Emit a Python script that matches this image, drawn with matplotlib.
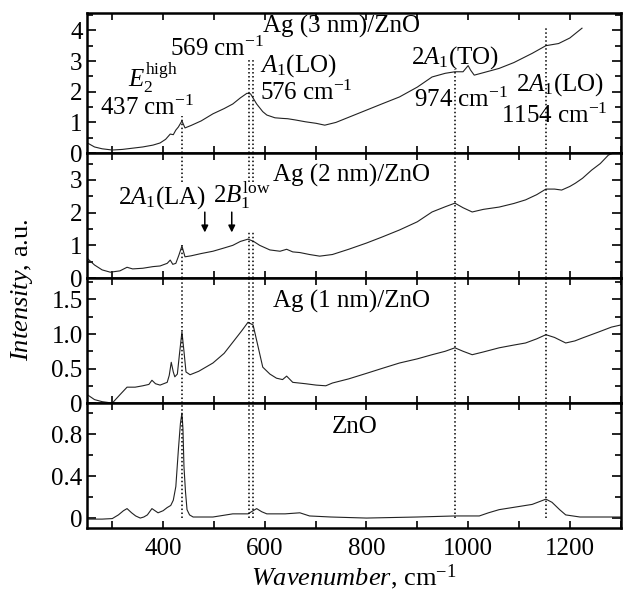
import matplotlib.pyplot as plt
from matplotlib.ticker import MultipleLocator

plt.rcParams['font.family'] = 'Liberation Serif'
plt.rcParams['mathtext.fontset'] = 'custom'
plt.rcParams['mathtext.rm'] = 'Liberation Serif'
plt.rcParams['mathtext.it'] = 'Liberation Serif:italic'
plt.rcParams['mathtext.bf'] = 'Liberation Serif:bold'
plt.rcParams['font.size'] = 18

# spectra (wavenumber, cm-1 / intensity, a.u.)
ag3_w = [251, 265, 280, 300, 320, 340, 360, 380, 394, 405, 414, 420, 425, 430, 437, 443, 455, 475,
         498, 520, 537, 552, 565, 572, 584, 596, 604, 620, 635, 645, 660, 680, 701, 718, 740, 770,
         800, 830, 865, 900, 929, 955, 974, 990, 1000, 1005, 1012, 1030, 1061, 1090, 1126, 1153,
         1178, 1200, 1224]
ag3_i = [0.33, 0.2, 0.14, 0.1, 0.12, 0.16, 0.2, 0.26, 0.33, 0.45, 0.62, 0.6, 0.75, 0.85, 1.05, 0.82,
         0.9, 1.05, 1.28, 1.45, 1.6, 1.8, 1.95, 1.93, 1.6, 1.35, 1.24, 1.15, 1.13, 1.12, 1.08, 1.02,
         0.97, 0.91, 1.0, 1.2, 1.4, 1.6, 1.83, 2.15, 2.48, 2.6, 2.65, 2.65, 2.85, 2.7, 2.54, 2.62,
         2.76, 2.95, 3.25, 3.5, 3.57, 3.75, 4.07]

ag2_w = [251, 265, 280, 296, 315, 329, 340, 360, 380, 394, 408, 414, 419, 425, 431, 437, 443, 455,
         475, 498, 520, 537, 552, 567, 578, 590, 610, 630, 643, 655, 669, 688, 708, 733, 765, 800,
         830, 865, 900, 929, 955, 974, 990, 1008, 1030, 1061, 1090, 1113, 1135, 1153, 1170, 1184,
         1200, 1211, 1225, 1243, 1260, 1276, 1290]
ag2_i = [0.6, 0.4, 0.25, 0.18, 0.22, 0.33, 0.28, 0.3, 0.35, 0.37, 0.45, 0.55, 0.42, 0.45, 0.7, 0.98,
         0.65, 0.68, 0.75, 0.82, 0.92, 1.0, 1.12, 1.19, 1.12, 1.0, 0.86, 0.82, 0.88, 0.8, 0.78, 0.72,
         0.67, 0.72, 0.88, 1.07, 1.25, 1.47, 1.72, 2.02, 2.18, 2.29, 2.15, 2.02, 2.1, 2.17, 2.28,
         2.39, 2.55, 2.72, 2.72, 2.69, 2.8, 2.9, 3.05, 3.3, 3.5, 3.76, 3.85]

ag1_w = [251, 265, 280, 300, 315, 329, 345, 360, 372, 378, 385, 394, 408, 412, 416, 420, 423, 428,
         432, 437, 441, 445, 453, 470, 498, 520, 537, 555, 567, 577, 587, 596, 610, 623, 635, 643,
         655, 680, 701, 720, 733, 765, 800, 830, 865, 900, 929, 955, 974, 990, 1008, 1030, 1061,
         1090, 1113, 1135, 1153, 1170, 1192, 1210, 1224, 1257, 1282, 1300]
ag1_i = [0.12, 0.05, 0.02, 0.0, 0.12, 0.23, 0.23, 0.25, 0.27, 0.33, 0.28, 0.26, 0.3, 0.4, 0.59, 0.45,
         0.38, 0.42, 0.7, 1.03, 0.75, 0.45, 0.41, 0.46, 0.58, 0.72, 0.88, 1.05, 1.17, 1.13, 0.81,
         0.52, 0.42, 0.36, 0.34, 0.39, 0.3, 0.28, 0.26, 0.25, 0.29, 0.35, 0.43, 0.5, 0.58, 0.64,
         0.7, 0.75, 0.8, 0.75, 0.7, 0.74, 0.8, 0.84, 0.87, 0.93, 0.99, 0.95, 0.87, 0.9, 0.94, 1.03,
         1.1, 1.13]

zno_w = [251, 280, 300, 312, 322, 329, 338, 346, 355, 362, 369, 378, 384, 390, 400, 408, 415, 420,
         425, 430, 434, 437, 439, 441, 444, 447, 452, 459, 498, 537, 567, 577, 584, 594, 604, 640,
         669, 688, 730, 800, 900, 974, 1022, 1040, 1061, 1100, 1126, 1153, 1165, 1180, 1192, 1220,
         1257, 1300]
zno_i = [-0.01, -0.01, -0.005, 0.03, 0.07, 0.09, 0.05, 0.02, 0.0, 0.01, 0.03, 0.09, 0.07, 0.05, 0.07,
         0.1, 0.12, 0.17, 0.3, 0.65, 0.9, 1.0, 0.85, 0.49, 0.25, 0.08, 0.03, 0.01, 0.01, 0.04, 0.04,
         0.07, 0.09, 0.06, 0.04, 0.04, 0.05, 0.02, 0.01, 0.0, 0.01, 0.02, 0.02, 0.05, 0.08, 0.11,
         0.13, 0.18, 0.15, 0.08, 0.03, 0.01, 0.01, 0.01]

peaks = [437, 569, 576, 974, 1154]

yticks_ag3 = [0, 1, 2, 3, 4]
ylabels_ag3 = ['0', '1', '2', '3', '4']
yticks_ag2 = [0, 1, 2, 3]
ylabels_ag2 = ['0', '1', '2', '3']
yticks_ag1 = [0, 0.5, 1.0, 1.5]
ylabels_ag1 = ['0', '0.5', '1.0', '1.5']
yticks_zno = [0, 0.4, 0.8]
ylabels_zno = ['0', '0.4', '0.8']
xticks = [400, 600, 800, 1000, 1200]

fig = plt.figure(figsize=(6.25, 5.98), dpi=100)

L, W = 0.139, 0.854
ax1 = fig.add_axes([L, 0.744, W, 0.234])
ax2 = fig.add_axes([L, 0.535, W, 0.209])
ax3 = fig.add_axes([L, 0.326, W, 0.209])
ax4 = fig.add_axes([L, 0.117, W, 0.209])

panels = [
    (ax1, ag3_w, ag3_i, (0, 4.56), yticks_ag3, ylabels_ag3, 0.5),
    (ax2, ag2_w, ag2_i, (0, 3.82), yticks_ag2, ylabels_ag2, 0.5),
    (ax3, ag1_w, ag1_i, (0, 1.81), yticks_ag1, ylabels_ag1, 0.25),
    (ax4, zno_w, zno_i, (-0.095, 1.095), yticks_zno, ylabels_zno, 0.2),
]

for ax, w, inten, ylim, yt, yl, ystep in panels:
    ax.plot(w, inten, color='#222222', lw=0.8)
    ax.set_xlim(250, 1300)
    ax.set_ylim(*ylim)
    ax.set_yticks(yt)
    ax.set_yticklabels(yl)
    ax.yaxis.set_minor_locator(MultipleLocator(ystep))
    ax.set_xticks(xticks)
    ax.xaxis.set_minor_locator(MultipleLocator(100))
    ax.tick_params(which='both', direction='in', top=True, right=True, width=1.2, labelsize=18, pad=3)
    ax.tick_params(which='major', length=6.5)
    ax.tick_params(which='minor', length=4.5)
    ax.tick_params(axis='x', which='both', length=5, pad=7)
    for s in ax.spines.values():
        s.set_linewidth(1.8)
    if ax is not ax4:
        ax.tick_params(labelbottom=False)

dot = dict(colors='black', linestyles=(0, (1, 1.6)), lw=1.1)
# dotted markers for the peak positions
ax1.vlines(peaks[0], 0, 1.2, **dot)
ax1.vlines(peaks[1:3], 0, 3.1, **dot)
ax1.vlines(peaks[3], 0, 2.75, **dot)
ax1.vlines(peaks[4], 0, 4.07, **dot)
ax2.vlines(peaks[:3], 2.95, 3.82, **dot)
ax2.vlines(peaks[0], 0, 1.0, **dot)
ax2.vlines(peaks[1:3], 0, 1.4, **dot)
ax2.vlines(peaks[3:], 0, 3.82, **dot)
ax3.vlines(peaks, 0, 1.81, **dot)
ax4.vlines(peaks, 0, 1.095, **dot)

ax1.text(596, 3.92, 'Ag (3 nm)/ZnO', va='baseline')
ax1.text(414, 3.16, '569 cm$^{-1}$', va='baseline')
ax1.text(331, 2.15, r'$E_2^{\mathrm{high}}$', va='baseline')
ax1.text(276, 1.24, '437 cm$^{-1}$', va='baseline')
ax1.text(590, 2.64, '$A_1$(LO)', va='baseline')
ax1.text(590, 1.73, '576 cm$^{-1}$', va='baseline')
ax1.text(888, 2.93, '2$A_1$(TO)', va='baseline')
ax1.text(894, 1.5, '974 cm$^{-1}$', va='baseline')
ax1.text(1094, 2.05, '2$A_1$(LO)', va='baseline')
ax1.text(1065, 0.98, '1154 cm$^{-1}$', va='baseline')

ax2.text(616, 2.94, 'Ag (2 nm)/ZnO', va='baseline')
ax2.text(312, 2.29, '2$A_1$(LA)', va='baseline')
ax2.text(498, 2.29, r'2$B_1^{\mathrm{low}}$', va='baseline')
for xa in [482, 535]:
    ax2.annotate('', xy=(xa, 1.31), xytext=(xa, 2.1),
                 arrowprops=dict(arrowstyle='-|>', color='black', lw=1.1, mutation_scale=10))

ax3.text(616, 1.38, 'Ag (1 nm)/ZnO', va='baseline')
ax4.text(731, 0.81, 'ZnO', va='baseline')

ax4.set_xlabel(r'$\mathit{Wavenumber}$, cm$^{-1}$', fontsize=19, labelpad=2)
fig.text(0.035, 0.515, r'$\mathit{Intensity}$, a.u.', rotation=90, ha='center', va='center', fontsize=19)

plt.savefig('out.png', dpi=100)
